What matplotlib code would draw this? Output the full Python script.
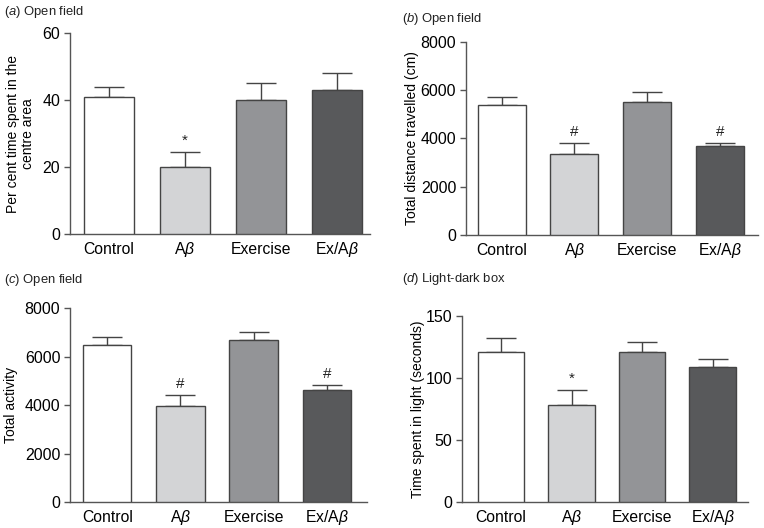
import matplotlib
matplotlib.use("Agg")
import matplotlib.pyplot as plt

plt.rcParams['font.family'] = ['Liberation Sans', 'DejaVu Sans']
plt.rcParams['mathtext.fontset'] = 'custom'
plt.rcParams['mathtext.it'] = 'Liberation Sans:italic'
plt.rcParams['mathtext.rm'] = 'Liberation Sans'

categories = ['Control', r'A$\it{\beta}$', 'Exercise', r'Ex/A$\it{\beta}$']
colors = ['#ffffff', '#d3d4d6', '#939497', '#58595b']

a_vals = [40.8, 19.9, 40.0, 43.0]
a_err = [3.2, 4.5, 5.2, 5.0]
a_marks = ['', '*', '', '']

b_vals = [5380, 3370, 5520, 3680]
b_err = [330, 450, 380, 140]
b_marks = ['', '#', '', '#']

c_vals = [6460, 3950, 6680, 4640]
c_err = [330, 480, 340, 180]
c_marks = ['', '#', '', '#']

d_vals = [121.5, 78.5, 121.5, 108.9]
d_err = [10.8, 12.3, 8.0, 6.9]
d_marks = ['', '*', '', '']

fig = plt.figure(figsize=(7.64, 5.28), dpi=100)

panels = [
    dict(rect=[0.0916, 0.5568, 0.3927, 0.3807], vals=a_vals, err=a_err, marks=a_marks,
         ylim=60, ticks=[0, 20, 40, 60], ylabel='Per cent time spent in the\ncentre area',
         title='a', tname='Open field', tx=4, ty=12, xlim=(-0.51, 3.44), ylx=-0.115),
    dict(rect=[0.6099, 0.5549, 0.3822, 0.3661], vals=b_vals, err=b_err, marks=b_marks,
         ylim=8000, ticks=[0, 2000, 4000, 6000, 8000], ylabel='Total distance travelled (cm)',
         title='b', tname='Open field', tx=402, ty=19, xlim=(-0.49, 3.52), ylx=-0.162),
    dict(rect=[0.0916, 0.0487, 0.3887, 0.3680], vals=c_vals, err=c_err, marks=c_marks,
         ylim=8000, ticks=[0, 2000, 4000, 6000, 8000], ylabel='Total activity',
         title='c', tname='Open field', tx=4, ty=280, xlim=(-0.51, 3.55), ylx=-0.175),
    dict(rect=[0.6051, 0.0487, 0.3739, 0.3523], vals=d_vals, err=d_err, marks=d_marks,
         ylim=150, ticks=[0, 50, 100, 150], ylabel='Time spent in light (seconds)',
         title='d', tname='Light-dark box', tx=402, ty=279, xlim=(-0.55, 3.5), ylx=-0.13),
]

edge = '#444444'
for p in panels:
    ax = fig.add_axes(p['rect'])
    x = list(range(len(categories)))
    ax.bar(x, p['vals'], width=0.66, color=colors, edgecolor=edge, linewidth=1.0, zorder=3)
    ax.errorbar(x, p['vals'], yerr=[[0]*4, p['err']], fmt='none', ecolor=edge,
                elinewidth=1.0, capsize=11, capthick=1.0, zorder=2)
    for xi, v, e, m in zip(x, p['vals'], p['err'], p['marks']):
        if m:
            ax.annotate(m, (xi, v + e), xytext=(0, 3), textcoords='offset points',
                        ha='center', va='bottom', fontsize=11, color='#222222')
    ax.set_xlim(*p['xlim'])
    ax.set_ylim(0, p['ylim'])
    ax.set_yticks(p['ticks'])
    ax.set_xticks(x)
    ax.set_xticklabels(categories, fontsize=11.3)
    for lbl in ax.get_xticklabels():
        lbl.set_va('baseline')
    ax.tick_params(axis='x', length=0, pad=14.4)
    ax.tick_params(axis='y', length=4, width=1.0, color='#555555', labelsize=11.5, pad=3)
    for s in ['top', 'right']:
        ax.spines[s].set_visible(False)
    for s in ['left', 'bottom']:
        ax.spines[s].set_color('#555555')
        ax.spines[s].set_linewidth(1.0)
    ax.set_ylabel(p['ylabel'], fontsize=10, linespacing=1.1)
    ax.yaxis.set_label_coords(p['ylx'], 0.5)
    fig.text(p['tx'] / 764, 1 - p['ty'] / 528, '(' + r'$\it{' + p['title'] + '}$' + ') ' + p['tname'],
             fontsize=9.4, ha='left', va='center', color='#222222')

fig.savefig('out.png', dpi=100)
